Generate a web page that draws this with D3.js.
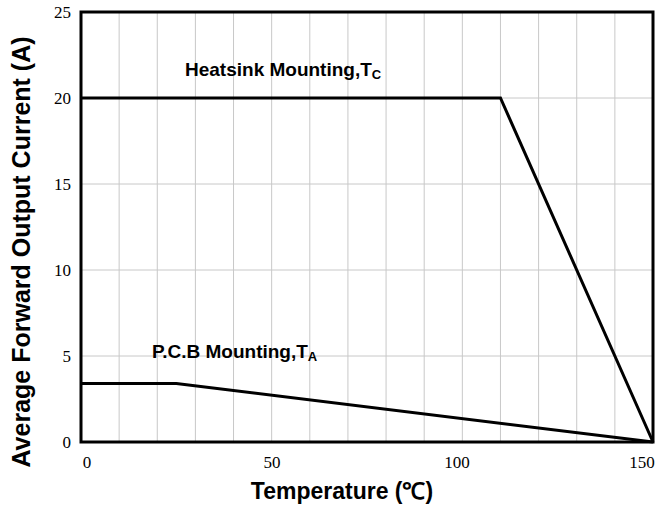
<!DOCTYPE html>
<html>
<head>
<meta charset="utf-8">
<script src="https://cdn.jsdelivr.net/npm/d3@7"></script>
<style>
  body { margin: 0; background: #fff; }
</style>
</head>
<body>
<svg id="chart" width="656" height="510"></svg>
<script>
// derating curves, temperature (C) vs average forward current (A)
const heatsinkTemp = [0, 110, 150];
const heatsinkCurrent = [20, 20, 0];
const pcbTemp = [0, 25, 150];
const pcbCurrent = [3.4, 3.4, 0];

const xTickLabels = [0, 50, 100, 150];
const yTickLabels = [0, 5, 10, 15, 20, 25];
const xGrid = d3.range(10, 150, 10);
const yGrid = [5, 10, 15, 20];

const margin = {top: 12, right: 3, bottom: 68, left: 81};
const W = 656, H = 510;

const svg = d3.select("#chart");

const x = d3.scaleLinear().domain([0, 150]).range([margin.left, W - margin.right]);
const y = d3.scaleLinear().domain([0, 25]).range([H - margin.bottom, margin.top]);
// tick labels in the original sit a bit inside the ends of the axis
const xLabel = x.copy().range([x(0) + 6, x(150) - 11]);

// grid
svg.append("g")
  .selectAll("line")
  .data(xGrid)
  .enter()
  .append("line")
    .attr("x1", d => x(d)).attr("x2", d => x(d))
    .attr("y1", y(25)).attr("y2", y(0))
    .attr("stroke", "#c8c8c8")
    .attr("stroke-width", 1);

svg.append("g")
  .selectAll("line")
  .data(yGrid)
  .enter()
  .append("line")
    .attr("x1", x(0)).attr("x2", x(150))
    .attr("y1", d => y(d)).attr("y2", d => y(d))
    .attr("stroke", "#c8c8c8")
    .attr("stroke-width", 1);

// curves
const line = d3.line().x(d => x(d[0])).y(d => y(d[1]));
const heatsink = heatsinkTemp.map((t, i) => [t, heatsinkCurrent[i]]);
const pcb = pcbTemp.map((t, i) => [t, pcbCurrent[i]]);

[heatsink, pcb].forEach(pts => {
  svg.append("path")
    .datum(pts)
    .attr("d", line)
    .attr("fill", "none")
    .attr("stroke", "#000")
    .attr("stroke-width", 3)
    .attr("stroke-linejoin", "miter");
});

// frame
svg.append("rect")
  .attr("x", x(0)).attr("y", y(25))
  .attr("width", x(150) - x(0))
  .attr("height", y(0) - y(25))
  .attr("fill", "none")
  .attr("stroke", "#000")
  .attr("stroke-width", 3);

// tick labels
svg.append("g")
  .selectAll("text")
  .data(xTickLabels)
  .enter()
  .append("text")
    .attr("x", d => xLabel(d))
    .attr("y", 468)
    .attr("text-anchor", "middle")
    .attr("font-family", "'Liberation Serif', 'DejaVu Serif', serif")
    .attr("font-size", 17)
    .text(d => d);

svg.append("g")
  .selectAll("text")
  .data(yTickLabels)
  .enter()
  .append("text")
    .attr("x", 71)
    .attr("y", d => y(d) + 6)
    .attr("text-anchor", "end")
    .attr("font-family", "'Liberation Serif', 'DejaVu Serif', serif")
    .attr("font-size", 17)
    .text(d => d);

// axis titles
svg.append("text")
  .attr("x", 342)
  .attr("y", 499)
  .attr("text-anchor", "middle")
  .attr("font-family", "'Liberation Sans', Arial, sans-serif")
  .attr("font-weight", "bold")
  .attr("font-size", 23)
  .text("Temperature (\u2103)");

svg.append("text")
  .attr("transform", "translate(30," + 252 + ") rotate(-90)")
  .attr("text-anchor", "middle")
  .attr("font-family", "'Liberation Sans', Arial, sans-serif")
  .attr("font-weight", "bold")
  .attr("font-size", 25)
  .text("Average Forward Output Current (A)");

// curve labels
function curveLabel(px, py, main, sub) {
  const t = svg.append("text")
    .attr("x", px).attr("y", py)
    .attr("font-family", "'Liberation Sans', Arial, sans-serif")
    .attr("font-weight", "bold")
    .attr("font-size", 19);
  t.append("tspan").text(main);
  t.append("tspan").attr("dy", 3).attr("font-size", 13).text(sub);
}
curveLabel(185, 76, "Heatsink Mounting,T", "C");
curveLabel(152, 358, "P.C.B Mounting,T", "A");
</script>
</body>
</html>
